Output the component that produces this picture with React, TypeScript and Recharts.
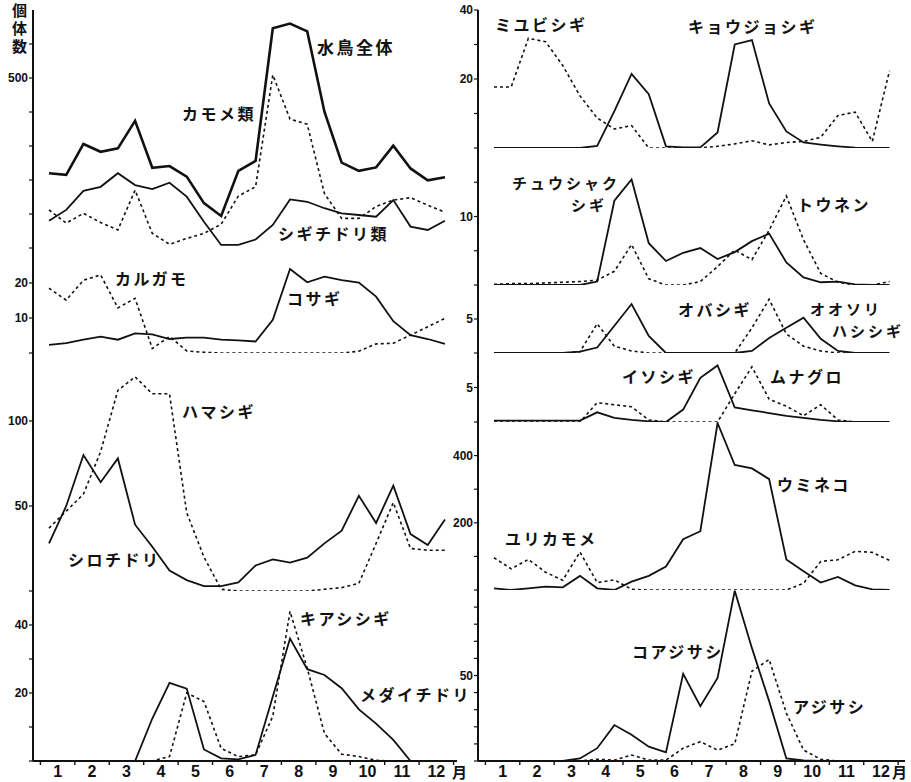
import React from 'react';
import { LineChart, Line, XAxis, YAxis } from 'recharts';

// x = half-month index (0 = first half of January ... 23 = second half of December)
const halfMonth = [0, 1, 2, 3, 4, 5, 6, 7, 8, 9, 10, 11, 12, 13, 14, 15, 16, 17, 18, 19, 20, 21, 22, 23];
const monthNames = ['1', '2', '3', '4', '5', '6', '7', '8', '9', '10', '11', '12'];

// left column
const suichoZentai = [220, 215, 306, 283, 293, 374, 236, 241, 210, 132, 94, 227, 256, 646, 660, 637, 401, 251, 227, 237, 301, 234, 199, 208];
const kamomeRui = [112, 73, 102, 75, 53, 170, 43, 11, 28, 43, 70, 153, 180, 509, 379, 364, 160, 87, 87, 122, 141, 148, 126, 105];
const shigichidoriRui = [80, 112, 168, 180, 220, 185, 173, 192, 151, 77, 9, 9, 25, 68, 143, 136, 117, 102, 97, 92, 141, 63, 53, 80];

const karugamo = [18.5, 15.1, 20.8, 22.3, 12.9, 15.6, 1.3, 4.7, 0.6, 0.2, 0, 0, 0, 0, 0, 0, 0, 0, 0.5, 2.6, 2.8, 5.1, 7.5, 9.9];
const kosagi = [2.3, 2.8, 3.8, 4.7, 3.8, 5.6, 5.3, 4.0, 4.4, 4.4, 3.8, 3.6, 3.3, 9.5, 24, 20.2, 21.8, 20.8, 20.1, 16.1, 9.1, 5.1, 4.0, 2.6];

const hamashigi = [37, 47, 57, 82, 118, 126, 116, 116, 46, 20, 1, 0, 0, 0, 0, 0, 1, 2, 4.5, 28, 52, 25, 24, 24];
const shirochidori = [28, 50, 80, 64, 78, 39, 26, 12, 6.4, 2.9, 2.9, 5, 15, 18.6, 16.7, 19.6, 28, 35.5, 56, 40, 62, 33.5, 27, 42];

const medaichidori = [0, 0, 0, 0, 0, 0, 12.5, 23, 21.3, 3.4, 0.8, 0.5, 1.8, 19, 36, 27, 25.3, 21.4, 15.2, 11, 6.2, 0, 0, 0];
const kiashishigi = [0, 0, 0, 0, 0, 0, 0, 1.3, 20, 17.5, 3.7, 1.3, 1.8, 13.2, 44, 27.3, 8.1, 2, 1.3, 0.2, 0, 0, 0, 0];

// right column
const miyubishigi = [17.7, 17.7, 31.8, 30.8, 23.9, 15.1, 8.7, 5.5, 6.5, 0, 0, 0, 0, 0.5, 1.2, 2.1, 0.9, 1.6, 1.9, 3.1, 9.4, 10.4, 1.9, 22.4];
const kyojoshigi = [0, 0, 0, 0, 0, 0, 0.6, 10.7, 21.5, 15.6, 0.5, 0.2, 0.2, 4.5, 30, 31.3, 12.9, 4.8, 1.6, 1.0, 0.5, 0.1, 0, 0];

const chushakushigi = [0, 0, 0, 0, 0, 0, 0.5, 12.3, 15.4, 6.1, 3.5, 4.7, 5.4, 3.8, 4.8, 6.4, 7.5, 3.3, 1.1, 0.4, 0.5, 0.1, 0, 0];
const tonen = [0.1, 0.2, 0.2, 0.3, 0.4, 0.5, 0.7, 2, 5.9, 0.9, 0, 0, 0.5, 2.7, 5.1, 3.7, 8, 13, 6.6, 1.7, 0.4, 0, 0, 0.5];

const obashigi = [0, 0, 0, 0, 0, 0.2, 4.3, 1, 0.3, 0, 0, 0, 0, 0, 0, 3.7, 7.9, 2.8, 1.0, 0.3, 0, 0, 0, 0];
const oosorihashishigi = [0, 0, 0, 0, 0, 0.2, 0.8, 4.0, 7.2, 2.5, 0, 0, 0, 0, 0, 0.3, 2.2, 3.7, 5.2, 2.1, 0.3, 0, 0, 0];

const isoshigi = [0.2, 0.2, 0.2, 0.2, 0.2, 0.2, 1.4, 0.6, 0.3, 0.1, 0, 1.8, 6.4, 8.2, 2.1, 1.7, 1.3, 0.9, 0.6, 0.3, 0.1, 0, 0, 0];
const munaguro = [0, 0, 0, 0, 0, 0, 2.8, 2.5, 2.2, 0.3, 0, 0, 0, 0, 4.1, 8.0, 3.3, 2.3, 0.9, 2.5, 0.3, 0, 0, 0];

const umineko = [5, 0, 5, 10, 8, 42, 5, 0, 25, 42, 70, 151, 175, 497, 372, 362, 330, 91, 56, 22, 39, 14, 2, 0];
const yurikamome = [96, 63, 91, 53, 29, 113, 22, 30, 2, 0, 0, 0, 0, 0, 0, 0, 0, 0, 20, 85, 90, 115, 112, 88];

const koajisashi = [0, 0, 0, 0, 0, 1.5, 7.5, 21, 15.3, 8.4, 5, 51, 32, 48.6, 99.6, 66, 35, 1.5, 0.3, 0, 0, 0, 0, 0];
const ajisashi = [0, 0, 0, 0, 0, 0, 1, 0.5, 3.5, 0.5, 0.5, 7.5, 11.3, 6.4, 10, 52.5, 59.4, 28, 6.4, 1, 0, 0, 0, 0];

const INK = '#111';
const NUM_FONT = '"Liberation Sans", Arial, sans-serif';
const JP_FONT = '"Noto Sans CJK JP", "Noto Sans", sans-serif';

const boundaries = [...monthNames.map((_, k) => 2 * k - 0.5), 23.5];
const centers = monthNames.map((_, k) => 2 * k + 0.5);

type Series = { key: string; values: number[]; dashed?: boolean; width?: number };
type PanelDef = {
  top: number;
  bottom: number;
  yMax: number;
  yTicks: number[];
  yLabels: number[];
  series: Series[];
  last?: boolean;
};
type Col = { x: number; yw: number; w: number; xDomain: [number, number] };

const leftCol: Col = { x: 0, yw: 33, w: 460, xDomain: [-0.93, 23.7] };
const rightCol: Col = { x: 440, yw: 38, w: 468, xDomain: [-0.93, 23.9] };

const leftPanels: PanelDef[] = [
  {
    top: 10, bottom: 248, yMax: 700, yTicks: [0, 100, 200, 300, 400, 500, 600], yLabels: [500],
    series: [
      { key: 'total', values: suichoZentai, width: 2.6 },
      { key: 'gull', values: kamomeRui, dashed: true },
      { key: 'shore', values: shigichidoriRui, width: 1.8 },
    ],
  },
  {
    top: 248, bottom: 353, yMax: 30, yTicks: [0, 10, 20], yLabels: [10, 20],
    series: [
      { key: 'karugamo', values: karugamo, dashed: true },
      { key: 'kosagi', values: kosagi },
    ],
  },
  {
    top: 353, bottom: 591, yMax: 140, yTicks: [0, 50, 100], yLabels: [50, 100],
    series: [
      { key: 'hamashigi', values: hamashigi, dashed: true },
      { key: 'shirochidori', values: shirochidori },
    ],
  },
  {
    top: 591, bottom: 761, yMax: 50, yTicks: [0, 10, 20, 30, 40], yLabels: [20, 40], last: true,
    series: [
      { key: 'kiashi', values: kiashishigi, dashed: true },
      { key: 'medai', values: medaichidori },
    ],
  },
];

const rightPanels: PanelDef[] = [
  {
    top: 10, bottom: 148, yMax: 40, yTicks: [0, 10, 20, 30, 40], yLabels: [20, 40],
    series: [
      { key: 'miyubi', values: miyubishigi, dashed: true },
      { key: 'kyojo', values: kyojoshigi },
    ],
  },
  {
    top: 148, bottom: 285, yMax: 20, yTicks: [0, 5, 10, 15], yLabels: [10],
    series: [
      { key: 'tonen', values: tonen, dashed: true },
      { key: 'chushaku', values: chushakushigi },
    ],
  },
  {
    top: 285, bottom: 353, yMax: 10, yTicks: [0, 5], yLabels: [5],
    series: [
      { key: 'oba', values: obashigi, dashed: true },
      { key: 'oosori', values: oosorihashishigi },
    ],
  },
  {
    top: 353, bottom: 422, yMax: 10, yTicks: [0, 5], yLabels: [5],
    series: [
      { key: 'munaguro', values: munaguro, dashed: true },
      { key: 'isoshigi', values: isoshigi },
    ],
  },
  {
    top: 422, bottom: 590, yMax: 500, yTicks: [0, 100, 200, 300, 400], yLabels: [200, 400],
    series: [
      { key: 'yuri', values: yurikamome, dashed: true },
      { key: 'umineko', values: umineko },
    ],
  },
  {
    top: 590, bottom: 761, yMax: 100, yTicks: [0, 10, 20, 30, 40, 50, 60, 70, 80, 90], yLabels: [50], last: true,
    series: [
      { key: 'ajisashi', values: ajisashi, dashed: true },
      { key: 'koajisashi', values: koajisashi },
    ],
  },
];

const monthTick = (showLabel: boolean) => (props: any) => {
  const { x, y, payload } = props;
  const v = payload.value as number;
  const isBoundary = Math.abs((v + 0.5) % 2) < 0.01;
  if (isBoundary) {
    return <line x1={x} x2={x} y1={y} y2={y + 4} stroke={INK} strokeWidth={1.4} />;
  }
  if (!showLabel) return <g />;
  return (
    <text x={x} y={y + 16} textAnchor="middle" fontSize={16} fontWeight={700} fill={INK} fontFamily={NUM_FONT}>
      {monthNames[(v - 0.5) / 2]}
    </text>
  );
};

function Panel({ col, p }: { col: Col; p: PanelDef }) {
  const mt = 8;
  const xh = p.last ? 22 : 0;
  const mb = p.last ? 0 : 5;
  const H = mt + (p.bottom - p.top) + xh + mb;
  const data = halfMonth.map((h, i) => {
    const row: Record<string, number> = { h };
    p.series.forEach((s) => {
      row[s.key] = s.values[i];
    });
    return row;
  });
  return (
    <div style={{ position: 'absolute', left: col.x, top: p.top - mt }}>
      <LineChart width={col.w} height={H} data={data} margin={{ top: mt, right: 3, bottom: mb, left: 0 }}>
        <XAxis
          type="number"
          dataKey="h"
          domain={col.xDomain}
          ticks={[...boundaries, ...centers]}
          interval={0}
          tickSize={0}
          tickMargin={0}
          tickLine={false}
          axisLine={{ stroke: INK, strokeWidth: 2 }}
          height={xh}
          tick={monthTick(!!p.last)}
          allowDataOverflow
        />
        <YAxis
          type="number"
          domain={[0, p.yMax]}
          ticks={p.yTicks}
          interval={0}
          width={col.yw}
          tickSize={4}
          tickMargin={1}
          tickLine={{ stroke: INK, strokeWidth: 1.2 }}
          axisLine={{ stroke: INK, strokeWidth: 2 }}
          tickFormatter={(v: number) => (p.yLabels.includes(v) ? String(v) : '')}
          tick={{ fontSize: 12, fontWeight: 700, fill: INK, fontFamily: NUM_FONT }}
          allowDataOverflow
        />
        {p.series.map((s) => (
          <Line
            key={s.key}
            dataKey={s.key}
            type="linear"
            stroke={INK}
            strokeWidth={s.width ?? (s.dashed ? 1.6 : 1.8)}
            strokeDasharray={s.dashed ? '3 3' : undefined}
            dot={false}
            isAnimationActive={false}
          />
        ))}
      </LineChart>
    </div>
  );
}

const noteStyle = (size: number): React.CSSProperties => ({
  position: 'absolute',
  fontFamily: JP_FONT,
  fontWeight: 700,
  fontSize: size,
  lineHeight: `${size}px`,
  letterSpacing: 2.5,
  whiteSpace: 'nowrap',
  color: INK,
});

function Note({ x, y, text, size = 16 }: { x: number; y: number; text: string; size?: number }) {
  return <div style={{ ...noteStyle(size), left: x, top: y - 2 }}>{text}</div>;
}

const notes: { x: number; y: number; text: string; size?: number }[] = [
  { x: 317, y: 40, text: '水鳥全体', size: 17 },
  { x: 182, y: 107, text: 'カモメ類' },
  { x: 278, y: 227, text: 'シギチドリ類' },
  { x: 115, y: 272, text: 'カルガモ' },
  { x: 287, y: 292, text: 'コサギ' },
  { x: 182, y: 405, text: 'ハマシギ' },
  { x: 68, y: 553, text: 'シロチドリ' },
  { x: 300, y: 612, text: 'キアシシギ' },
  { x: 360, y: 688, text: 'メダイチドリ' },
  { x: 495, y: 18, text: 'ミユビシギ' },
  { x: 688, y: 20, text: 'キョウジョシギ' },
  { x: 797, y: 198, text: 'トウネン' },
  { x: 678, y: 303, text: 'オバシギ' },
  { x: 622, y: 370, text: 'イソシギ' },
  { x: 770, y: 370, text: 'ムナグロ' },
  { x: 777, y: 478, text: 'ウミネコ' },
  { x: 505, y: 532, text: 'ユリカモメ' },
  { x: 632, y: 645, text: 'コアジサシ' },
  { x: 793, y: 700, text: 'アジサシ' },
];

// two-line labels, slightly smaller so the lines keep clear of each other
const splitNotes: { x: number; y: number; text: string }[] = [
  { x: 512, y: 176, text: 'チュウシャク' },
  { x: 571, y: 198, text: 'シギ' },
  { x: 810, y: 302, text: 'オオソリ' },
  { x: 832, y: 324, text: 'ハシシギ' },
];

export default function App() {
  return (
    <div style={{ position: 'absolute', left: 0, top: 0, width: 911, height: 782, background: '#fff', overflow: 'hidden' }}>
      {leftPanels.map((p, i) => (
        <Panel key={`l${i}`} col={leftCol} p={p} />
      ))}
      {rightPanels.map((p, i) => (
        <Panel key={`r${i}`} col={rightCol} p={p} />
      ))}
      <div
        style={{
          position: 'absolute',
          left: 9,
          top: 3,
          writingMode: 'vertical-rl',
          fontFamily: JP_FONT,
          fontWeight: 700,
          fontSize: 15,
          letterSpacing: 3,
          color: INK,
        }}
      >
        個体数
      </div>
      {notes.map((n) => (
        <Note key={`${n.text}${n.x}`} {...n} />
      ))}
      {splitNotes.map((n) => (
        <div key={n.text} style={{ ...noteStyle(15), lineHeight: '22px', letterSpacing: 3, left: n.x, top: n.y - 4 }}>
          {n.text}
        </div>
      ))}
      <div style={{ position: 'absolute', left: 452, top: 761, fontFamily: JP_FONT, fontWeight: 700, fontSize: 15, color: INK }}>月</div>
      <div style={{ position: 'absolute', left: 892, top: 761, fontFamily: JP_FONT, fontWeight: 700, fontSize: 15, color: INK }}>月</div>
    </div>
  );
}
